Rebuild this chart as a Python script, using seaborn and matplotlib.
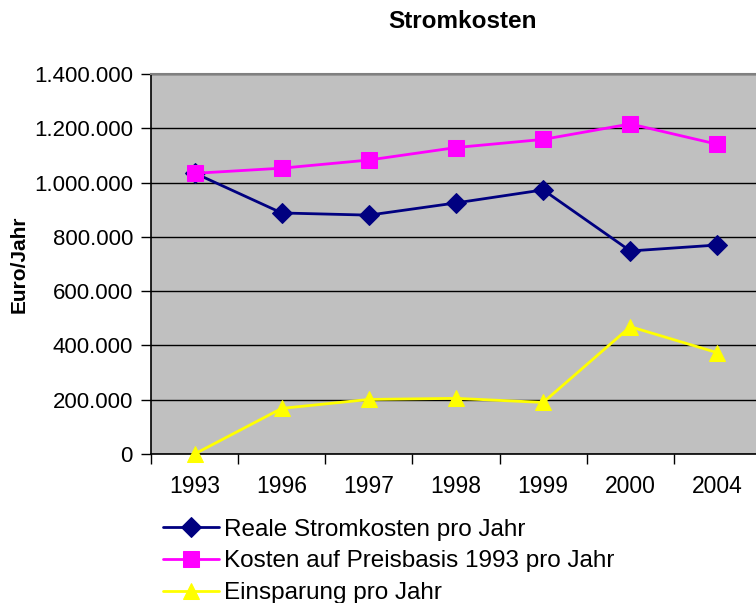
import matplotlib
matplotlib.use("Agg")
import matplotlib.pyplot as plt
import numpy as np
import pandas as pd
import seaborn as sns
from matplotlib.ticker import FuncFormatter, FixedLocator

years = ["1993", "1996", "1997", "1998", "1999", "2000", "2004"]
real_costs = [1035000, 888000, 880000, 925000, 973000, 748000, 770000]
base_1993_costs = [1034000, 1053000, 1083000, 1129000, 1159000, 1216000, 1141000]
savings = [0, 168000, 201000, 205000, 190000, 469000, 373000]

series = [
    ("Reale Stromkosten pro Jahr", real_costs, "#000080", "D", 10),
    ("Kosten auf Preisbasis 1993 pro Jahr", base_1993_costs, "#FF00FF", "s", 12),
    ("Einsparung pro Jahr", savings, "#FFFF00", "^", 12),
]

sns.set_style("white")
plt.rcParams["font.family"] = ["Liberation Sans", "DejaVu Sans"]
plt.rcParams["text.color"] = "black"
plt.rcParams["axes.labelcolor"] = "black"
plt.rcParams["xtick.color"] = "black"
plt.rcParams["ytick.color"] = "black"

fig = plt.figure(figsize=(7.56, 6.03), dpi=100)
ax = fig.add_axes([0.1997, 0.2471, 0.807, 0.6302])
ax.set_facecolor("#C0C0C0")

for name, values, color, marker, ms in series:
    df = pd.DataFrame({"Jahr": years, "Wert": values})
    sns.lineplot(
        data=df, x="Jahr", y="Wert", ax=ax, color=color, marker=marker,
        markersize=ms, markeredgecolor=color, linewidth=2, label=name,
        sort=False, zorder=3,
    )
for line in ax.lines:
    line.set_clip_on(False)

ax.set_xlim(-0.5, len(years) - 0.5)
ax.set_ylim(0, 1400000)
ax.set_yticks(np.arange(0, 1400001, 200000))
ax.yaxis.set_major_formatter(
    FuncFormatter(lambda v, p: f"{int(v):,}".replace(",", "."))
)
ax.grid(axis="y", color="black", linewidth=1)
ax.set_axisbelow(True)

ax.set_xticks(range(len(years)))
ax.set_xticklabels(years)
ax.xaxis.set_minor_locator(FixedLocator(np.arange(-0.5, len(years), 1.0)))
ax.tick_params(axis="x", which="major", length=0, pad=15, labelsize=16.5)
ax.tick_params(axis="x", which="minor", length=7, width=1, color="black",
               direction="out", bottom=True)
ax.tick_params(axis="y", length=7, width=1, color="black", direction="out",
               left=True, labelsize=16, pad=6)

for side in ["left", "bottom"]:
    ax.spines[side].set_color("black")
    ax.spines[side].set_linewidth(1.2)
ax.spines["top"].set_color("#808080")
ax.spines["top"].set_linewidth(1.5)
ax.spines["right"].set_visible(False)

ax.set_xlabel("")
ax.set_ylabel("Euro/Jahr", fontsize=15, fontweight="bold", labelpad=4)
fig.text(0.612, 0.965, "Stromkosten", ha="center", va="center",
         fontsize=17.5, fontweight="bold")

handles, labels = ax.get_legend_handles_labels()
ax.legend(handles, labels, loc="upper left", bbox_to_anchor=(0.203, 0.156),
          bbox_transform=fig.transFigure, frameon=False, fontsize=17.5,
          handlelength=2.3, handletextpad=0.2, labelspacing=0.4,
          borderaxespad=0)

fig.savefig("out.png", dpi=100)
